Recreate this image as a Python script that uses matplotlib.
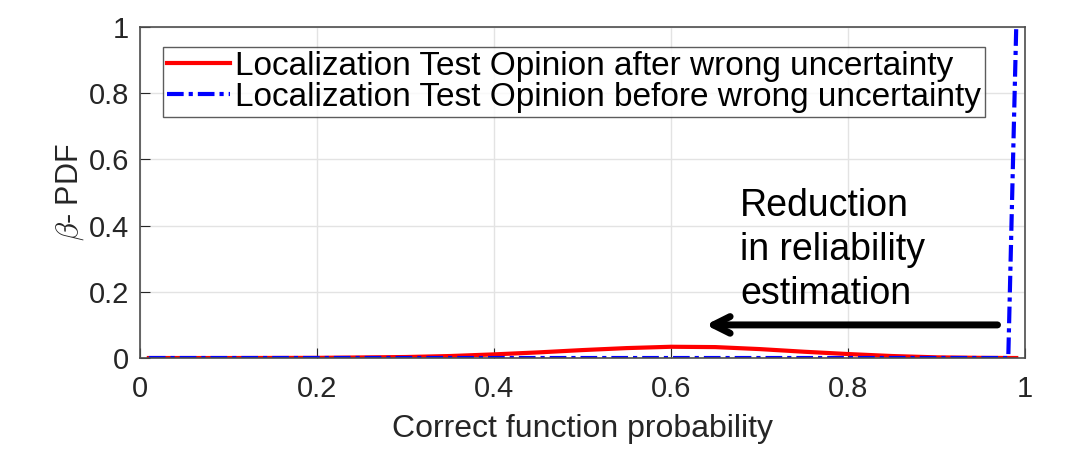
import numpy as np
import matplotlib.pyplot as plt

plt.rcParams['font.family'] = ['Liberation Sans', 'DejaVu Sans']
plt.rcParams['mathtext.fontset'] = 'cm'

# Rote Kurve: nach falscher Unsicherheit
x_after = [0.01, 0.1, 0.2, 0.3, 0.35, 0.4, 0.45, 0.5, 0.55, 0.6, 0.65, 0.7, 0.75, 0.8, 0.85, 0.9, 0.95, 0.99]
y_after = [0.0, 0.0, 0.0005, 0.003, 0.006, 0.011, 0.017, 0.024, 0.030, 0.034, 0.033, 0.027, 0.019, 0.012, 0.006, 0.002, 0.0005, 0.0]

# Blaue Kurve: vor falscher Unsicherheit
x_before = [0.01, 0.2, 0.4, 0.6, 0.8, 0.95, 0.981, 0.99]
y_before = [0.0, 0.0, 0.0, 0.0, 0.0, 0.0, 0.0, 1.0]

labels = ["Localization Test Opinion after wrong uncertainty",
          "Localization Test Opinion before wrong uncertainty"]

fig = plt.figure(figsize=(10.82, 4.59), dpi=100)
ax = fig.add_axes([0.1294, 0.22, 0.818, 0.7212])

ax.plot(x_after, y_after, color='red', lw=3, label=labels[0])
ax.plot(x_before, y_before, color='blue', lw=3, ls=(0, (4, 1.2, 1, 1.2)), label=labels[1])

ax.set_xlim(0, 1)
ax.set_ylim(0, 1)
ax.set_xticks([0, 0.2, 0.4, 0.6, 0.8, 1])
ax.set_xticklabels(['0', '0.2', '0.4', '0.6', '0.8', '1'])
ax.set_yticks([0, 0.2, 0.4, 0.6, 0.8, 1])
ax.set_yticklabels(['0', '0.2', '0.4', '0.6', '0.8', '1'])
ax.tick_params(direction='in', length=7, labelsize=21, colors='#262626')
ax.tick_params(axis='x', pad=12)
ax.tick_params(axis='y', pad=8)
ax.grid(True, color='#e3e3e3', lw=1)
ax.set_axisbelow(True)
for s in ax.spines.values():
    s.set_color('#4d4d4d')
    s.set_linewidth(1.2)

ax.set_xlabel('Correct function probability', fontsize=23, color='#262626', labelpad=8)
ax.set_ylabel(r'$\beta$- PDF', fontsize=22, color='#262626', labelpad=2)

leg = ax.legend(loc='upper left', bbox_to_anchor=(0.026, 0.94), fontsize=24,
                frameon=True, fancybox=False, handlelength=1.9, handletextpad=0.15,
                borderpad=0.12, labelspacing=0.0, borderaxespad=0)
leg.get_frame().set_edgecolor('#333333')
leg.get_frame().set_linewidth(1.0)

ax.annotate('', xy=(0.636, 0.1), xytext=(0.972, 0.1),
            arrowprops=dict(arrowstyle='->', lw=5, color='black', mutation_scale=30))
ax.text(0.678, 0.515, 'Reduction\nin reliability\nestimation', fontsize=27,
        color='black', va='top', ha='left', linespacing=1.3)

fig.savefig('out.png', dpi=100)
